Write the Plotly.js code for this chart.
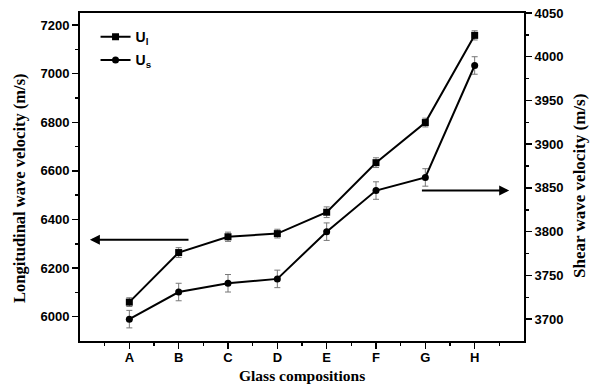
<!DOCTYPE html>
<html>
<head>
<meta charset="utf-8">
<script src="https://cdn.plot.ly/plotly-3.0.1.min.js"></script>
<style>html,body{margin:0;padding:0;background:#fff;}#chart{width:606px;height:388px;}</style>
</head>
<body>
<div id="chart"></div>
<script>
const categories = ['A','B','C','D','E','F','G','H'];
const ulValues = [6060, 6264, 6329, 6342, 6430, 6634, 6799, 7158];
const ulErrors = [18, 20, 19, 18, 22, 20, 18, 19];
const usValues = [3700, 3731, 3741, 3746, 3800, 3847, 3862, 3990];
const usErrors = [10, 10, 10, 10, 10, 10, 10, 10];
const xTitle = 'Glass compositions';
const yTitle = 'Longitudinal wave velocity (m/s)';
const y2Title = 'Shear wave velocity (m/s)';
const xPos = categories.map((c, i) => i + 1);
const minorX = categories.map((c, i) => i + 0.5).concat([categories.length + 0.5]);

const traces = [
  {
    x: xPos, y: ulValues, name: '<b>U<sub>l</sub></b>', legendgroup: 'l', type: 'scatter', mode: 'lines+markers',
    line: {color: '#000', width: 2}, marker: {symbol: 'square', size: 7, color: '#000'},
    error_y: {type: 'data', array: ulErrors, visible: true, color: '#777', thickness: 1, width: 3},
    yaxis: 'y'
  },
  {
    x: xPos, y: usValues, name: '<b>U<sub>s</sub></b>', legendgroup: 's', type: 'scatter', mode: 'lines+markers',
    line: {color: '#000', width: 2}, marker: {symbol: 'circle', size: 7, color: '#000'},
    error_y: {type: 'data', array: usErrors, visible: true, color: '#777', thickness: 1, width: 3},
    yaxis: 'y2'
  }
];

const tickFont = {family: 'Liberation Sans, Arial, sans-serif', size: 13, color: '#000', weight: 'bold'};
const serif = 'Liberation Serif, Times New Roman, serif';

const layout = {
  width: 606, height: 388,
  margin: {l: 80, r: 82, t: 13, b: 47, pad: 0},
  paper_bgcolor: '#fff', plot_bgcolor: '#fff',
  showlegend: true,
  legend: {x: 0.035, y: 0.975, xanchor: 'left', yanchor: 'top', bgcolor: 'rgba(0,0,0,0)',
    font: {family: 'Liberation Sans, Arial, sans-serif', size: 14, color: '#000'}, tracegroupgap: 2, itemwidth: 30},
  xaxis: {
    range: [0, 9], tickmode: 'array', tickvals: xPos, ticktext: categories,
    ticks: 'outside', ticklen: 6, tickwidth: 1.5, tickcolor: '#000', ticklabelstandoff: -3,
    minor: {tickmode: 'array', tickvals: minorX, ticks: 'outside', ticklen: 3, tickwidth: 1.5, tickcolor: '#000'},
    showline: true, linecolor: '#000', linewidth: 2, mirror: true, showgrid: false, zeroline: false,
    tickfont: tickFont
  },
  yaxis: {
    range: [5900, 7250], tickmode: 'array', tickvals: [6000, 6200, 6400, 6600, 6800, 7000, 7200],
    ticks: 'outside', ticklen: 6, tickwidth: 1.5, tickcolor: '#000',
    minor: {tickmode: 'array', tickvals: [6100, 6300, 6500, 6700, 6900, 7100], ticks: 'outside', ticklen: 3, tickwidth: 1.5, tickcolor: '#000'},
    showline: true, linecolor: '#000', linewidth: 2, showgrid: false, zeroline: false,
    tickfont: tickFont
  },
  yaxis2: {
    overlaying: 'y', side: 'right',
    range: [3675, 4050], tickmode: 'array', tickvals: [3700, 3750, 3800, 3850, 3900, 3950, 4000, 4050],
    ticks: 'outside', ticklen: 6, tickwidth: 1.5, tickcolor: '#000',
    minor: {tickmode: 'array', tickvals: [3725, 3775, 3825, 3875, 3925, 3975, 4025], ticks: 'outside', ticklen: 3, tickwidth: 1.5, tickcolor: '#000'},
    showline: true, linecolor: '#000', linewidth: 2, showgrid: false, zeroline: false,
    tickfont: tickFont
  },
  annotations: [
    {x: 0.5, y: -0.104, xref: 'paper', yref: 'paper', xanchor: 'center', yanchor: 'middle', showarrow: false,
     text: '<b>' + xTitle + '</b>', font: {family: serif, size: 15.5, color: '#000'}},
    {x: -0.135, y: 0.4665, xref: 'paper', yref: 'paper', xanchor: 'center', yanchor: 'middle', showarrow: false,
     textangle: -90, text: '<b>' + yTitle + '</b>', font: {family: serif, size: 16.5, color: '#000'}},
    {x: 1.126, y: 0.4726, xref: 'paper', yref: 'paper', xanchor: 'center', yanchor: 'middle', showarrow: false,
     textangle: -90, text: '<b>' + y2Title + '</b>', font: {family: serif, size: 17, color: '#000'}},
    {x: 0.2, y: 6317, ax: 2.26, ay: 6317, xref: 'x', yref: 'y', axref: 'x', ayref: 'y',
     showarrow: true, arrowhead: 2, arrowsize: 1, arrowwidth: 2, arrowcolor: '#000', text: ' '},
    {x: 8.7, y: 3847, ax: 6.87, ay: 3847, xref: 'x', yref: 'y2', axref: 'x', ayref: 'y2',
     showarrow: true, arrowhead: 2, arrowsize: 1, arrowwidth: 2, arrowcolor: '#000', text: ' '}
  ]
};

Plotly.newPlot('chart', traces, layout, {displayModeBar: false, staticPlot: true});
</script>
</body>
</html>
